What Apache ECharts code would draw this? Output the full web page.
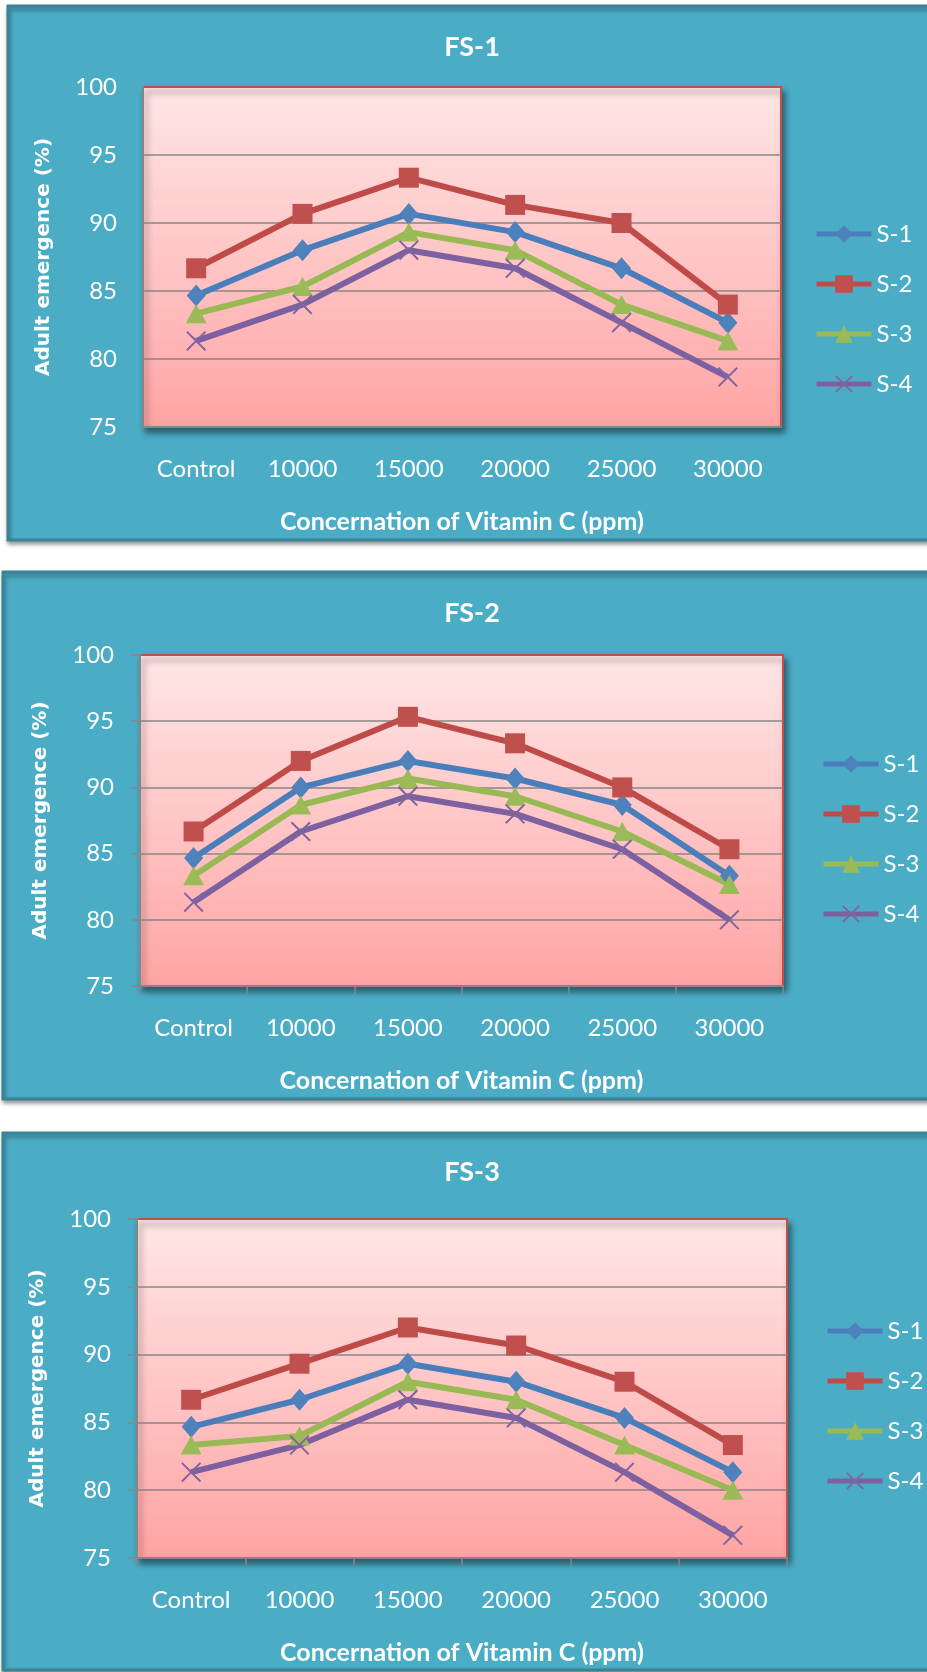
<!DOCTYPE html>
<html>
<head>
<meta charset="utf-8">
<title>Adult emergence by Vitamin C concentration</title>
<script src="https://cdn.jsdelivr.net/npm/echarts@6/dist/echarts.min.js"></script>
<style>
  html, body { margin: 0; padding: 0; background: #ffffff; }
  #chart { width: 927px; height: 1672px; }
</style>
</head>
<body>
<div id="chart"></div>
<script>
// Concentration levels on the x axis
const categories = ['Control', '10000', '15000', '20000', '25000', '30000'];
const seriesNames = ['S-1', 'S-2', 'S-3', 'S-4'];
const panelTitles = ['FS-1', 'FS-2', 'FS-3'];

// Adult emergence (%) per strain, FS-1
const fs1S1 = [84.67, 88.00, 90.67, 89.33, 86.67, 82.67];
const fs1S2 = [86.67, 90.67, 93.33, 91.33, 90.00, 84.00];
const fs1S3 = [83.33, 85.33, 89.33, 88.00, 84.00, 81.33];
const fs1S4 = [81.33, 84.00, 88.00, 86.67, 82.67, 78.67];

// FS-2
const fs2S1 = [84.67, 90.00, 92.00, 90.67, 88.67, 83.33];
const fs2S2 = [86.67, 92.00, 95.33, 93.33, 90.00, 85.33];
const fs2S3 = [83.33, 88.67, 90.67, 89.33, 86.67, 82.67];
const fs2S4 = [81.33, 86.67, 89.33, 88.00, 85.33, 80.00];

// FS-3
const fs3S1 = [84.67, 86.67, 89.33, 88.00, 85.33, 81.33];
const fs3S2 = [86.67, 89.33, 92.00, 90.67, 88.00, 83.33];
const fs3S3 = [83.33, 84.00, 88.00, 86.67, 83.33, 80.00];
const fs3S4 = [81.33, 83.33, 86.67, 85.33, 81.33, 76.67];

// Value axis range and step
const yMin = 75, yMax = 100, yStep = 5;

const xAxisTitle = 'Concernation of Vitamin C (ppm)';
const yAxisTitle = 'Adult emergence (%)';

// ---- styling / layout ----
const panelFill = '#4bacc6';
const panelBorder = '#3a8296';
const gridLineColor = '#868686';
const lineColors = ['#4a7ebb', '#be4b48', '#98b954', '#7d60a0'];
const markerColors = ['#4f81bd', '#c0504d', '#9bbb59', '#8064a2'];
const crossPath = 'path://M0.7,0 L5,4.3 L9.3,0 L10,0.7 L5.7,5 L10,9.3 L9.3,10 L5,5.7 L0.7,10 L0,9.3 L4.3,5 L0,0.7 Z';
const markerShapes = ['diamond', 'rect', 'triangle', crossPath];
const markerSizes = [[19, 22], 20, [21, 19], 20];
const seriesLineWidth = 6;
const legendLineWidth = 5;

const panelData = [
  [fs1S1, fs1S2, fs1S3, fs1S4],
  [fs2S1, fs2S2, fs2S3, fs2S4],
  [fs3S1, fs3S2, fs3S3, fs3S4]
];

const layout = [
  { box: [8, 6, 960, 534],   grid: [143, 87, 638, 340],   legend: [814, 222],  titleTop: 34,   ticks: false },
  { box: [3, 572, 960, 527], grid: [140, 655, 643, 331],  legend: [821, 752],  titleTop: 600,  ticks: true },
  { box: [3, 1133, 960, 537], grid: [137, 1219, 650, 339], legend: [825, 1319], titleTop: 1159, ticks: true }
];

const font = 'Lato';
const white = '#ffffff';

const option = {
  backgroundColor: '#ffffff',
  animation: false,
  title: [],
  legend: [],
  grid: [],
  xAxis: [],
  yAxis: [],
  series: [],
  graphic: { elements: [] }
};

layout.forEach((p, i) => {
  option.graphic.elements.push({
    type: 'rect',
    z: -10,
    shape: { x: p.box[0], y: p.box[1], width: p.box[2], height: p.box[3] },
    style: {
      fill: panelFill, stroke: panelBorder, lineWidth: 3,
      shadowBlur: 4, shadowOffsetX: 1, shadowOffsetY: 3, shadowColor: 'rgba(0,0,0,0.35)'
    }
  });

  option.title.push({
    text: panelTitles[i],
    left: 472,
    top: p.titleTop,
    textAlign: 'center',
    padding: 0,
    textStyle: { color: white, fontFamily: font, fontWeight: 'bold', fontSize: 27 }
  });

  option.legend.push({
    data: seriesNames,
    orient: 'vertical',
    left: p.legend[0],
    top: p.legend[1],
    padding: 0,
    itemWidth: 55,
    itemHeight: 22,
    itemGap: 26,
    selectedMode: false,
    lineStyle: { width: legendLineWidth },
    textStyle: { color: white, fontFamily: font, fontSize: 24 }
  });

  option.grid.push({
    left: p.grid[0], top: p.grid[1], width: p.grid[2], height: p.grid[3],
    show: true,
    borderColor: '#c0504d',
    borderWidth: 2,
    backgroundColor: {
      type: 'linear', x: 0, y: 0, x2: 0, y2: 1,
      colorStops: [
        { offset: 0, color: '#ffe6e6' },
        { offset: 0.5, color: '#ffc6c6' },
        { offset: 1, color: '#ffa3a3' }
      ]
    },
    shadowColor: 'rgba(0,0,0,0.45)',
    shadowBlur: 6,
    shadowOffsetX: 3,
    shadowOffsetY: 5
  });

  option.xAxis.push({
    type: 'category',
    gridIndex: i,
    data: categories,
    boundaryGap: true,
    name: xAxisTitle,
    nameLocation: 'middle',
    nameGap: 82,
    nameTextStyle: { color: white, fontFamily: font, fontWeight: 'bold', fontSize: 25 },
    axisLine: { show: true, lineStyle: { color: gridLineColor, width: 2 } },
    axisTick: { show: p.ticks, length: 8, alignWithLabel: false, lineStyle: { color: gridLineColor, width: 1.5 } },
    axisLabel: { color: white, fontFamily: font, fontSize: 24, margin: 30 },
    splitLine: { show: false }
  });

  option.yAxis.push({
    type: 'value',
    gridIndex: i,
    min: yMin,
    max: yMax,
    interval: yStep,
    name: yAxisTitle,
    nameLocation: 'middle',
    nameGap: 89,
    nameTextStyle: { color: white, fontFamily: 'DejaVu Sans', fontWeight: 'bold', fontSize: 20 },
    axisLine: { show: true, lineStyle: { color: gridLineColor, width: 2 } },
    axisTick: { show: p.ticks, length: 9, lineStyle: { color: gridLineColor, width: 1.5 } },
    axisLabel: { color: white, fontFamily: font, fontSize: 24, margin: 26 },
    splitLine: { show: true, showMinLine: false, showMaxLine: false, lineStyle: { color: gridLineColor, width: 1.5 } }
  });

  panelData[i].forEach((values, k) => {
    option.series.push({
      name: seriesNames[k],
      type: 'line',
      xAxisIndex: i,
      yAxisIndex: i,
      data: values,
      symbol: markerShapes[k],
      symbolSize: markerSizes[k],
      showAllSymbol: true,
      lineStyle: { color: lineColors[k], width: seriesLineWidth },
      itemStyle: { color: markerColors[k] },
      emphasis: { disabled: true }
    });
  });
});

const chart = echarts.init(document.getElementById('chart'), null, { renderer: 'canvas' });
chart.setOption(option);
</script>
</body>
</html>
